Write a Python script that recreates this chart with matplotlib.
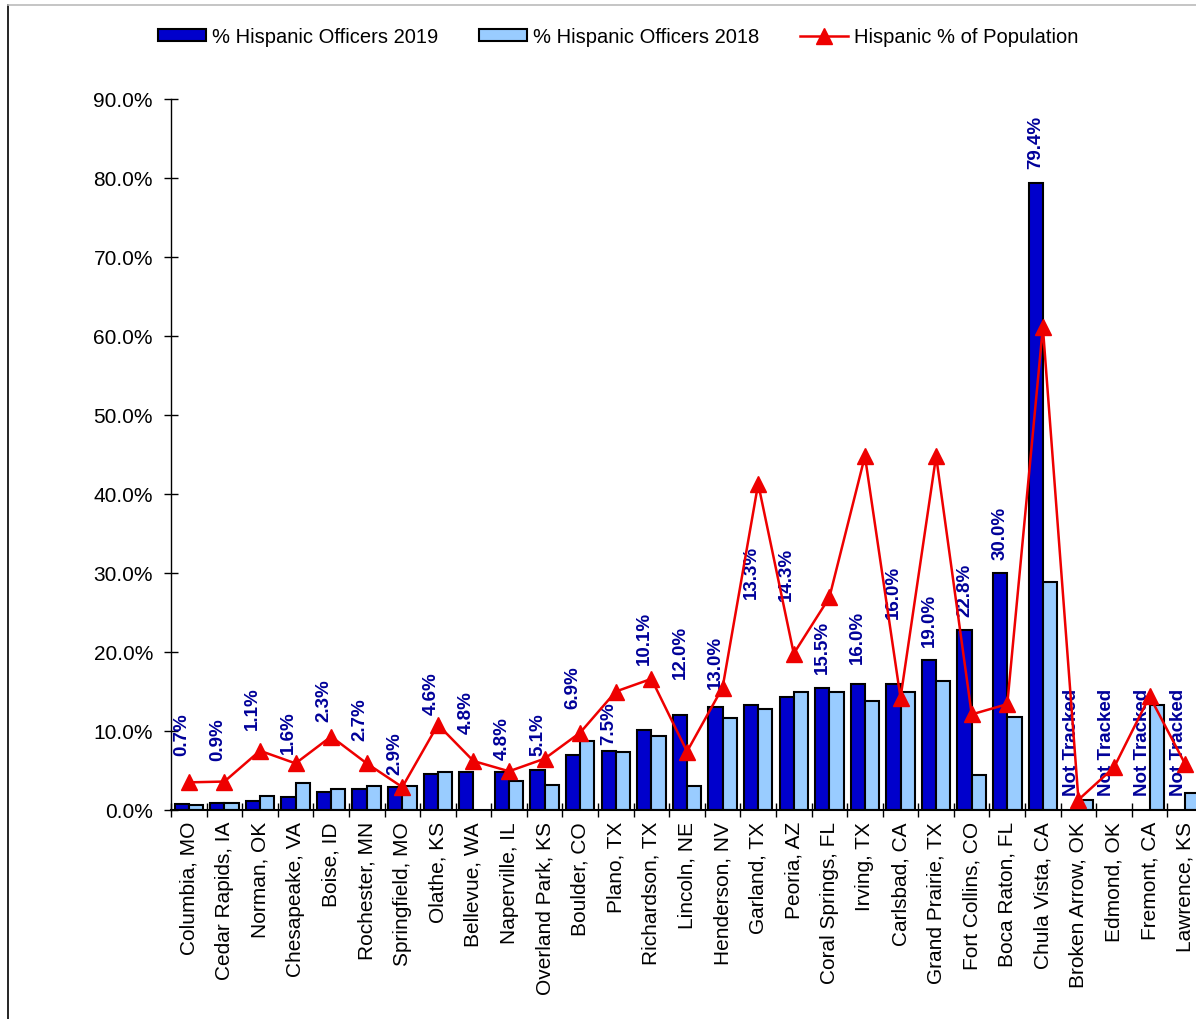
import numpy as np
import matplotlib.pyplot as plt
from matplotlib.lines import Line2D
from matplotlib.ticker import FuncFormatter, FixedLocator

plt.rcParams['font.family'] = ['Liberation Sans', 'DejaVu Sans']

cities = ['Columbia, MO', 'Cedar Rapids, IA', 'Norman, OK', 'Chesapeake, VA', 'Boise, ID',
          'Rochester, MN', 'Springfield, MO', 'Olathe, KS', 'Bellevue, WA', 'Naperville, IL',
          'Overland Park, KS', 'Boulder, CO', 'Plano, TX', 'Richardson, TX', 'Lincoln, NE',
          'Henderson, NV', 'Garland, TX', 'Peoria, AZ', 'Coral Springs, FL', 'Irving, TX',
          'Carlsbad, CA', 'Grand Prairie, TX', 'Fort Collins, CO', 'Boca Raton, FL',
          'Chula Vista, CA', 'Broken Arrow, OK', 'Edmond, OK', 'Fremont, CA', 'Lawrence, KS']
nan = np.nan
off_2019 = [0.7, 0.9, 1.1, 1.6, 2.3, 2.7, 2.9, 4.6, 4.8, 4.8, 5.1, 6.9, 7.5, 10.1, 12.0,
            13.0, 13.3, 14.3, 15.5, 16.0, 16.0, 19.0, 22.8, 30.0, 79.4, nan, nan, nan, nan]
off_2018 = [0.6, 0.9, 1.8, 3.4, 2.7, 3.0, 3.0, 4.8, nan, 3.7, 3.2, 8.7, 7.3, 9.4, 3.0,
            11.7, 12.8, 15.0, 15.0, 13.8, 15.0, 16.3, 4.4, 11.8, 28.8, 1.3, nan, 13.3, 2.2]
pop_pct = [3.5, 3.6, 7.5, 5.9, 9.3, 5.9, 2.9, 10.8, 6.2, 4.9, 6.5, 9.8, 15.0, 16.6, 7.4,
           15.5, 41.3, 19.8, 26.9, 44.8, 14.2, 44.8, 12.1, 13.4, 61.1, 1.3, 5.4, 14.4, 5.8]
# where the data labels sit (they were dragged around by hand in the original)
label_y = [7.0, 6.3, 10.3, 7.2, 11.3, 8.9, 4.6, 12.2, 9.8, 6.5, 6.9, 12.9, 8.3, 18.5, 16.7,
           15.5, 26.8, 26.6, 17.4, 18.6, 24.3, 20.8, 24.6, 31.8, 81.3, 1.9, 1.9, 1.9, 1.9]

fig = plt.figure(figsize=(11.96, 10.2), dpi=100)
ax = fig.add_axes([171/1196, 1-811/1020, (1203-171)/1196, (811-100)/1020])

x = np.arange(len(cities))
w = 0.4
b19 = ax.bar(x-w/2, off_2019, w, color='#0000CC', edgecolor='black', linewidth=1.5,
             label='% Hispanic Officers 2019', zorder=2)
b18 = ax.bar(x+w/2, off_2018, w, color='#99CCFF', edgecolor='black', linewidth=1.5,
             label='% Hispanic Officers 2018', zorder=2)
ln, = ax.plot(x, pop_pct, color='#EE0000', linewidth=1.8, marker='^', markersize=11,
              label='Hispanic % of Population', zorder=4)

for i in range(len(cities)):
    if np.isnan(off_2019[i]):
        txt = 'Not Tracked'
    else:
        txt = '{:.1f}%'.format(off_2019[i])
    ax.text(x[i]-w/2, label_y[i], txt, rotation=90, ha='center', va='bottom',
            fontsize=13.5, fontweight='bold', color='#000099', zorder=3)

ax.set_xlim(-0.5, len(cities)-0.5)
ax.set_ylim(0, 90)
ax.set_yticks(np.arange(0, 91, 10))
ax.yaxis.set_major_formatter(FuncFormatter(lambda v, p: '{:.1f}%'.format(v)))
ax.set_xticks(x)
ax.set_xticklabels(cities, rotation=90, fontsize=15)
ax.xaxis.set_minor_locator(FixedLocator(np.arange(-0.5, len(cities), 1)))
ax.tick_params(axis='x', which='major', length=0, pad=8)
ax.tick_params(axis='x', which='minor', length=10, direction='inout', width=1)
ax.tick_params(axis='y', labelsize=15, length=10, direction='inout', pad=8, width=1)
ax.spines['top'].set_visible(False)
ax.spines['right'].set_visible(False)
ax.spines['bottom'].set_linewidth(1.5)
ax.spines['left'].set_linewidth(1.0)

fig.legend(handles=[b19, b18, ln], loc='center', bbox_to_anchor=(0.517, 0.963), ncol=3,
           frameon=False, fontsize=14.5, handlelength=2.4, handleheight=0.5,
           handletextpad=0.3, columnspacing=2.0)

# border of the original chart area
fig.add_artist(Line2D([8/1196, 8/1196], [0, 1-6/1020], color='black', linewidth=1.2))
fig.add_artist(Line2D([8/1196, 1], [1-6/1020, 1-6/1020], color='#BBBBBB', linewidth=1.2))

plt.savefig('out.png')
